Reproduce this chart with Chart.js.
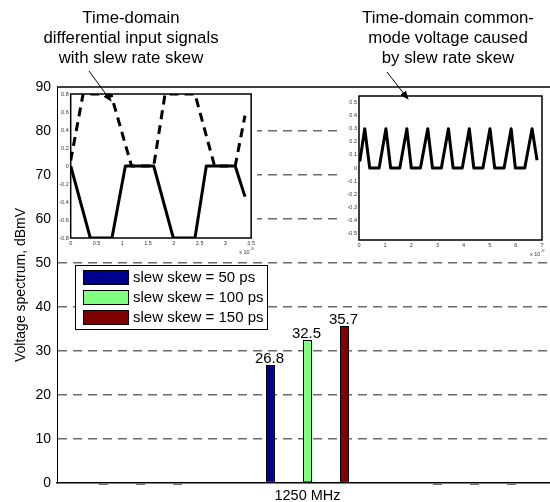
<!DOCTYPE html>
<html lang="en">
<head>
<meta charset="UTF-8">
<title>Voltage spectrum vs slew skew</title>
<script src="https://cdn.jsdelivr.net/npm/chart.js"></script>
<style>
  html, body { margin: 0; padding: 0; background: #fff; overflow: hidden; }
  #wrap { position: relative; width: 550px; height: 502px; overflow: hidden; font-family: "Liberation Sans", Arial, sans-serif; }
  #main { position: absolute; left: 0; top: 0; }
  .inset { position: absolute; background: #fff; }
  .note { position: absolute; text-align: center; font-size: 16.8px; line-height: 20px; color: #000; white-space: nowrap; transform: translateX(-50%); }
  #arrows { position: absolute; left: 0; top: 0; }
</style>
</head>
<body>
<div id="wrap">
  <canvas id="main" width="558" height="502"></canvas>
  <canvas id="diffInset" class="inset" width="199" height="168" style="left:58px; top:88px;"></canvas>
  <canvas id="cmInset" class="inset" width="207" height="172" style="left:343px; top:88px;"></canvas>
  <div class="note" style="left:131px; top:8px;">Time-domain<br>differential input signals<br>with slew rate skew</div>
  <div class="note" style="left:448px; top:8px;">Time-domain common-<br>mode voltage caused<br>by slew rate skew</div>
  <svg id="arrows" width="550" height="502">
    <defs>
      <marker id="head" markerWidth="9" markerHeight="7" refX="8" refY="3.5" orient="auto" markerUnits="userSpaceOnUse">
        <path d="M0,0 L9,3.5 L0,7 z" fill="#000"/>
      </marker>
    </defs>
    <line x1="89" y1="71" x2="111" y2="101" stroke="#000" stroke-width="1" marker-end="url(#head)"/>
    <line x1="387" y1="72" x2="408" y2="99" stroke="#000" stroke-width="1" marker-end="url(#head)"/>
  </svg>
</div>

<script>
// main bar chart data
const categories = ['', '1250 MHz', ''];
const seriesNames = ['slew skew = 50 ps', 'slew skew = 100 ps', 'slew skew = 150 ps'];
const skew50 = [-0.4, 26.8, -0.4];
const skew100 = [-0.4, 32.5, -0.4];
const skew150 = [-0.4, 35.7, -0.4];
const barColors = ['#00008f', '#80ff80', '#800000'];
const yTicks = [0, 10, 20, 30, 40, 50, 60, 70, 80, 90];

// inset 1: differential input signals (time in ns, volts)
const posTime = [0, 0.38, 0.80, 1.06, 1.61, 1.99, 2.41, 2.63, 3.19, 3.38];
const posVolt = [0, -0.8, -0.8, 0, 0, -0.8, -0.8, 0, 0, -0.34];
const negTime = [0, 0.24, 0.78, 1.18, 1.61, 1.83, 2.41, 2.79, 3.19, 3.38];
const negVolt = [0.06, 0.8, 0.8, 0, 0, 0.8, 0.8, 0, 0, 0.56];
const diffXTicks = [0, 0.5, 1, 1.5, 2, 2.5, 3, 3.5];
const diffYTicks = [-0.8, -0.6, -0.4, -0.2, 0, 0.2, 0.4, 0.6, 0.8];

// inset 2: common-mode voltage
const cmTime = [0.03, 0.22, 0.41, 0.77, 1.03, 1.21, 1.56, 1.83, 2.0, 2.35, 2.63, 2.81, 3.15, 3.42, 3.6, 3.95,
                4.22, 4.39, 4.74, 5.01, 5.19, 5.55, 5.82, 5.98, 6.34, 6.62, 6.81];
const cmVolt = [0.05, 0.3, 0, 0, 0.3, 0, 0, 0.3, 0, 0, 0.3, 0, 0, 0.3, 0, 0,
                0.3, 0, 0, 0.3, 0, 0, 0.3, 0, 0, 0.3, 0.06];
const cmXTicks = [0, 1, 2, 3, 4, 5, 6, 7];
const cmYTicks = [-0.5, -0.4, -0.3, -0.2, -0.1, 0, 0.1, 0.2, 0.3, 0.4, 0.5];

Chart.defaults.font.family = '"Liberation Sans", Arial, sans-serif';
Chart.defaults.color = '#000';

const pts = (xs, ys) => xs.map((x, i) => ({ x: x, y: ys[i] }));

// top box line, value labels and legend drawn on the main canvas
const mainExtras = {
    id: 'mainExtras',
    afterDatasetsDraw(chart) {
        const ctx = chart.ctx;
        const area = chart.chartArea;
        ctx.save();
        ctx.strokeStyle = '#000';
        ctx.lineWidth = 1.5;
        ctx.beginPath();
        ctx.moveTo(area.left, area.top);
        ctx.lineTo(area.right, area.top);
        ctx.stroke();

        // values above the bars
        ctx.font = '15px "Liberation Sans", Arial, sans-serif';
        ctx.fillStyle = '#000';
        ctx.textAlign = 'center';
        ctx.textBaseline = 'alphabetic';
        chart.data.datasets.forEach((ds, di) => {
            chart.getDatasetMeta(di).data.forEach((bar, i) => {
                if (ds.data[i] > 1) ctx.fillText(ds.data[i].toFixed(1), bar.x - 1, bar.y - 2);
            });
        });

        // legend box
        const lx = area.left + 18, ly = area.top + 178;
        ctx.fillStyle = '#fff';
        ctx.fillRect(lx, ly, 192, 64);
        ctx.lineWidth = 1;
        ctx.strokeRect(lx + 0.5, ly + 0.5, 192, 64);
        ctx.textAlign = 'left';
        ctx.textBaseline = 'middle';
        chart.data.datasets.forEach((ds, di) => {
            const y = ly + 5 + di * 20;
            ctx.fillStyle = ds.backgroundColor;
            ctx.fillRect(lx + 8, y, 45, 14);
            ctx.strokeStyle = '#000';
            ctx.strokeRect(lx + 8.5, y + 0.5, 45, 14);
            ctx.fillStyle = '#000';
            ctx.fillText(ds.label, lx + 58, y + 8);
        });
        ctx.restore();
    }
};

new Chart(document.getElementById('main'), {
    type: 'bar',
    data: {
        labels: categories,
        datasets: [skew50, skew100, skew150].map((vals, i) => ({
            label: seriesNames[i],
            data: vals,
            backgroundColor: barColors[i],
            borderColor: '#000',
            borderWidth: 1,
            borderSkipped: false,
            clip: false
        }))
    },
    options: {
        responsive: false,
        animation: false,
        layout: { padding: { top: 87, left: 0, right: 0, bottom: 0 } },
        datasets: { bar: { categoryPercentage: 0.665, barPercentage: 0.243 } },
        plugins: { legend: { display: false }, tooltip: { enabled: false } },
        scales: {
            x: {
                grid: { display: false, drawTicks: false },
                border: { color: '#000', width: 1.5 },
                ticks: { font: { size: 14.5 }, padding: 4, maxRotation: 0, autoSkip: false },
                afterFit: s => { s.height = 19; }
            },
            y: {
                min: 0,
                max: 90,
                afterBuildTicks: s => { s.ticks = yTicks.map(v => ({ value: v })); },
                ticks: { font: { size: 14 }, padding: 6 },
                grid: {
                    drawTicks: false,
                    lineWidth: 1.5,
                    color: c => (c.tick && (c.tick.value === 0 || c.tick.value === 90)) ? 'rgba(0,0,0,0)' : '#6a6a6a'
                },
                border: { color: '#000', width: 1, dash: [9, 6] },
                title: { display: true, text: 'Voltage spectrum, dBmV', font: { size: 14 }, padding: { top: 13, bottom: 0 } },
                afterFit: s => { s.width = 57; }
            }
        }
    },
    plugins: [mainExtras]
});

// inset helpers
const insetBox = {
    id: 'insetBox',
    afterDraw(chart) {
        const ctx = chart.ctx;
        const a = chart.chartArea;
        ctx.save();
        ctx.strokeStyle = '#000';
        ctx.lineWidth = 1.5;
        ctx.strokeRect(a.left, a.top, a.right - a.left, a.bottom - a.top);
        // x 10^-9 exponent label
        ctx.fillStyle = '#333';
        ctx.font = '5.5px "Liberation Sans", Arial, sans-serif';
        ctx.textAlign = 'left';
        ctx.textBaseline = 'middle';
        ctx.fillText('x 10', a.right - 12, a.bottom + 14);
        ctx.font = '4px "Liberation Sans", Arial, sans-serif';
        ctx.fillText('-9', a.right - 1, a.bottom + 11);
        ctx.restore();
    }
};

function makeInset(id, datasets, xMax, xTicks, yMin, yMax, yTicks, pad, yWidth, xHeight) {
    new Chart(document.getElementById(id), {
        type: 'line',
        data: { datasets: datasets },
        options: {
            responsive: false,
            animation: false,
            layout: { padding: pad },
            plugins: { legend: { display: false }, tooltip: { enabled: false } },
            elements: {
                point: { radius: 0 },
                line: { tension: 0, borderJoinStyle: 'round', borderCapStyle: 'butt' }
            },
            scales: {
                x: {
                    type: 'linear', min: 0, max: xMax,
                    afterBuildTicks: s => { s.ticks = xTicks.map(v => ({ value: v })); },
                    grid: { display: false, drawTicks: false },
                    border: { display: false },
                    ticks: { font: { size: 5.5 }, color: '#333', padding: 2, maxRotation: 0, autoSkip: false,
                             callback: v => String(v) },
                    afterFit: s => { s.height = xHeight; }
                },
                y: {
                    min: yMin, max: yMax,
                    afterBuildTicks: s => { s.ticks = yTicks.map(v => ({ value: v })); },
                    grid: { display: false, drawTicks: false },
                    border: { display: false },
                    ticks: { font: { size: 5.5 }, color: '#333', padding: 2, autoSkip: false,
                             callback: v => String(v) },
                    afterFit: s => { s.width = yWidth; }
                }
            }
        },
        plugins: [insetBox]
    });
}

makeInset('diffInset', [
    { data: pts(posTime, posVolt), borderColor: '#000', borderWidth: 3 },
    { data: pts(negTime, negVolt), borderColor: '#000', borderWidth: 3, borderDash: [9, 6] }
], 3.5, diffXTicks, -0.8, 0.8, diffYTicks, { top: 6, right: 3, left: 0, bottom: 0 }, 12.7, 18);

makeInset('cmInset', [
    { data: pts(cmTime, cmVolt), borderColor: '#000', borderWidth: 3 }
], 7, cmXTicks, -0.55, 0.55, cmYTicks, { top: 8, right: 8, left: 0, bottom: 0 }, 16, 20);
</script>
</body>
</html>
